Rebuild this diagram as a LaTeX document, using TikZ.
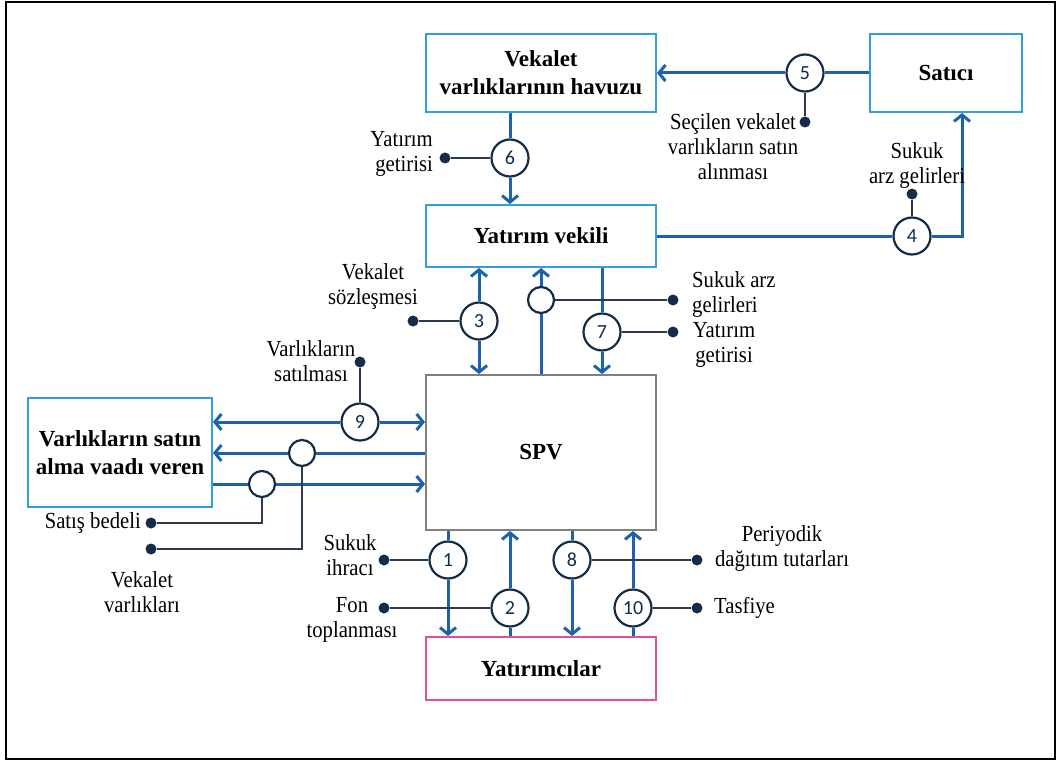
\documentclass[tikz,border=0pt]{standalone}
\usepackage{fontspec}
\setmainfont{Liberation Serif}
\newfontfamily\lblfont[FakeStretch=0.9]{Liberation Serif}
\newfontfamily\numfont{Carlito}
\usetikzlibrary{arrows.meta}
\definecolor{boxblue}{RGB}{52,158,214}
\definecolor{flowblue}{RGB}{30,98,172}
\definecolor{navy}{RGB}{20,44,72}
\definecolor{linkgray}{RGB}{45,58,78}
\definecolor{spvgray}{RGB}{128,128,128}
\definecolor{invpink}{RGB}{224,82,152}
\begin{document}
\begin{tikzpicture}[x=1pt,y=-1pt,
  >={Straight Barb[length=6.5pt,width=16pt]},
  box/.style={draw=boxblue,line width=2pt,inner sep=0pt,fill=white,align=center,
    minimum width=230pt,font=\fontsize{23}{28}\selectfont\bfseries},
  flow/.style={draw=flowblue,line width=3pt},
  link/.style={draw=linkgray,line width=1.6pt},
  num/.style={circle,draw=navy,line width=2.2pt,fill=white,minimum size=37pt,inner sep=0pt,
    text=navy,font=\numfont\fontsize{20}{20}\selectfont},
  hub/.style={circle,draw=navy,line width=2.2pt,fill=white,minimum size=26pt,inner sep=0pt},
  dot/.style={circle,fill=navy,minimum size=11pt,inner sep=0pt},
  lbl/.style={inner sep=0pt,align=center,font=\lblfont\fontsize{23}{25}\selectfont}]
\useasboundingbox (0,0) rectangle (1059,762);
% outer frame
\draw[line width=2pt] (6,2) rectangle (1055,759);

% parties
\node[box,minimum height=78pt] (hav) at (541,73) {Vekalet\\varlıklarının havuzu};
\node[box,minimum width=152pt,minimum height=78pt] (sat) at (946,73) {Satıcı};
\node[box,minimum height=62pt] (vek) at (541,236) {Yatırım vekili};
\node[box,draw=spvgray,minimum height=155pt] (spv) at (541,452.5) {SPV};
\node[box,minimum width=184pt,minimum height=109pt] (lb) at (120,452.5) {Varlıkların satın\\alma vaadı veren};
\node[box,draw=invpink,minimum height=63pt] (inv) at (541,668.5) {Yatırımcılar};

% numbered steps and junctions
\node[num] (n5) at (805,73) {5};
\node[num] (n6) at (510,158) {6};
\node[num] (n4) at (912,236) {4};
\node[num] (n3) at (479,321) {3};
\node[hub] (h1) at (541,300) {};
\node[num] (n7) at (602,332) {7};
\node[num] (n9) at (360,422) {9};
\node[hub] (h2) at (302,453) {};
\node[hub] (h3) at (262,484) {};
\node[num] (n1) at (448,560) {1};
\node[num] (n2) at (510,608) {2};
\node[num] (n8) at (572,560) {8};
\node[num] (n10) at (633,608) {10};
\coordinate (k4) at (962,236);

% label dots
\node[dot] (d5) at (805,122) {};
\node[dot] (d6) at (445,158) {};
\node[dot] (d4) at (912,194) {};
\node[dot] (d3) at (413,321) {};
\node[dot] (dh1) at (673,300) {};
\node[dot] (d7) at (673,332) {};
\node[dot] (d9) at (360,362) {};
\node[dot] (dh2) at (151,549) {};
\node[dot] (dh3) at (151,523) {};
\node[dot] (d1) at (384,560) {};
\node[dot] (d2) at (384,608) {};
\node[dot] (d8) at (697,560) {};
\node[dot] (d10) at (697,608) {};

% flows
\draw[flow] (sat) -- (n5);
\draw[flow,->] (n5) -- (hav);
\draw[flow] (hav.south -| n6) -- (n6);
\draw[flow,->] (n6) -- (vek.north -| n6);
\draw[flow] (vek) -- (n4);
\draw[flow,->] (n4) -- (k4) -- (k4 |- sat.south);
\draw[flow,<-] (vek.south -| n3) -- (n3);
\draw[flow,->] (n3) -- (spv.north -| n3);
\draw[flow] (spv.north -| h1) -- (h1);
\draw[flow,->] (h1) -- (vek.south -| h1);
\draw[flow] (vek.south -| n7) -- (n7);
\draw[flow,->] (n7) -- (spv.north -| n7);
\draw[flow,<-] (lb.east |- n9) -- (n9);
\draw[flow,->] (n9) -- (spv.west |- n9);
\draw[flow] (spv.west |- h2) -- (h2);
\draw[flow,->] (h2) -- (lb.east |- h2);
\draw[flow] (lb.east |- h3) -- (h3);
\draw[flow,->] (h3) -- (spv.west |- h3);
\draw[flow] (spv.south -| n1) -- (n1);
\draw[flow,->] (n1) -- (inv.north -| n1);
\draw[flow] (inv.north -| n2) -- (n2);
\draw[flow,->] (n2) -- (spv.south -| n2);
\draw[flow] (spv.south -| n8) -- (n8);
\draw[flow,->] (n8) -- (inv.north -| n8);
\draw[flow] (inv.north -| n10) -- (n10);
\draw[flow,->] (n10) -- (spv.south -| n10);

% label links
\draw[link] (d5) -- (n5);
\draw[link] (d6) -- (n6);
\draw[link] (d4) -- (n4);
\draw[link] (d3) -- (n3);
\draw[link] (h1) -- (dh1);
\draw[link] (n7) -- (d7);
\draw[link] (d9) -- (n9);
\draw[link] (h2) -- (h2 |- dh2) -- (dh2);
\draw[link] (h3) -- (h3 |- dh3) -- (dh3);
\draw[link] (d1) -- (n1);
\draw[link] (d2) -- (n2);
\draw[link] (n8) -- (d8);
\draw[link] (n10) -- (d10);

% labels
\node[lbl] (t5) at (733,147) {Seçilen vekalet\\varlıkların satın\\alınması};
\node[lbl,align=right,anchor=east] (t6) at (433,154) {Yatırım\\getirisi};
\node[lbl] (t4) at (917,166) {Sukuk\\arz gelirleri};
\node[lbl] (t3) at (373,286) {Vekalet\\sözleşmesi};
\node[lbl,align=left,anchor=west] (tsa) at (692,295) {Sukuk arz\\gelirleri};
\node[lbl] (t7) at (724,345) {Yatırım\\getirisi};
\node[lbl] (t9) at (311,361) {Varlıkların\\satılması};
\node[lbl,anchor=east] (tsb) at (141,523) {Satış bedeli};
\node[lbl] (tvv) at (142,592) {Vekalet\\varlıkları};
\node[lbl] (t1) at (350,555) {Sukuk\\ihracı};
\node[lbl] (t2) at (352,620) {Fon\\toplanması};
\node[lbl] (t8) at (782,548) {Periyodik\\dağıtım tutarları};
\node[lbl,anchor=west] (t10) at (714,608) {Tasfiye};
\end{tikzpicture}
\end{document}
